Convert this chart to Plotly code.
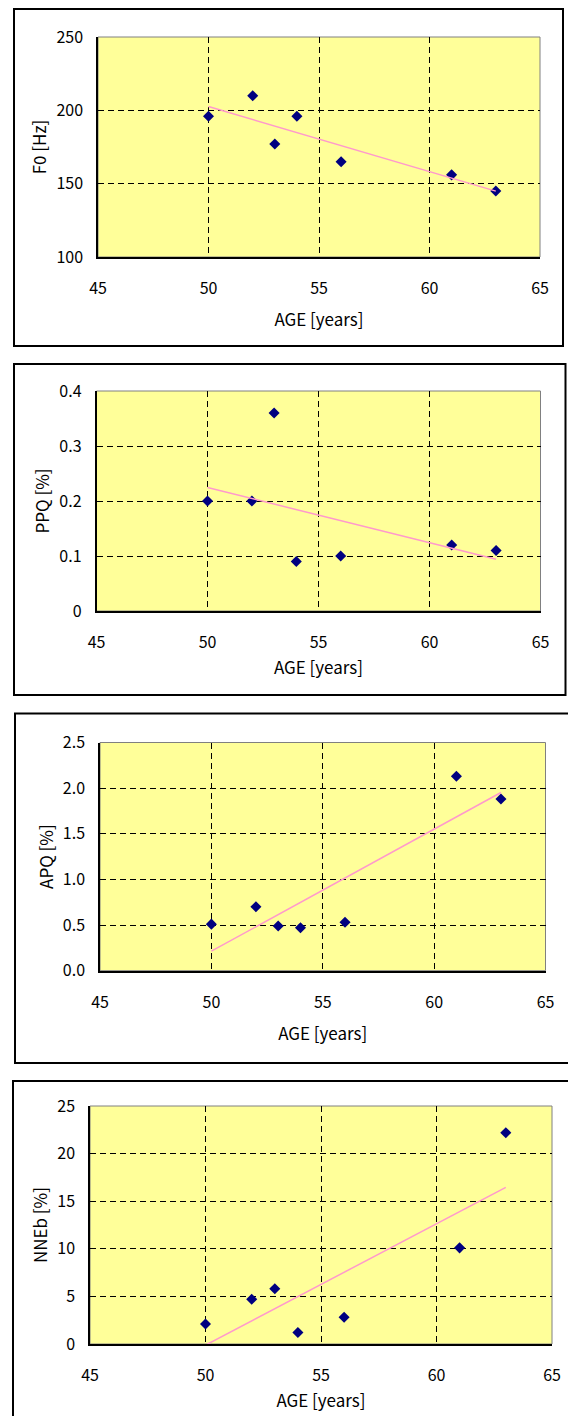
import numpy as np
import plotly.graph_objects as go

# ---- data ----
ages = [50, 52, 53, 54, 56, 61, 63]
f0_hz = [196, 210, 177, 196, 165, 156, 145]
ppq_pct = [0.20, 0.20, 0.36, 0.09, 0.10, 0.12, 0.11]
apq_pct = [0.51, 0.70, 0.49, 0.47, 0.53, 2.13, 1.88]
nneb_pct = [2.1, 4.7, 5.8, 1.2, 2.8, 10.1, 22.2]

x_title = "AGE [years]"
y_titles = ["F0 [Hz]", "PPQ [%]", "APQ [%]", "NNEb [%]"]
y_ranges = [[100, 250], [0, 0.4], [0, 2.5], [0, 25]]
y_dticks = [50, 0.1, 0.5, 5]
y_formats = ["", "", ".1f", ""]
x_range = [45, 65]
x_dtick = 5
series = [f0_hz, ppq_pct, apq_pct, nneb_pct]

# ---- layout geometry (pixels) ----
W, H = 568, 1416
plot_px = [(98, 540, 37, 257), (96.5, 540.5, 391, 611),
           (100, 545.5, 742.5, 970.7), (90, 552, 1106, 1344)]
box_px = [(14, 563, 9, 346), (14, 565.5, 364, 695),
          (15, 580, 713.5, 1063), (13, 580, 1081, 1430)]
x_title_standoff = [16, 10, 16, 10]

FONT = "Noto Sans CJK JP"
BG = "#FFFF99"
MARKER = "#000080"
TREND = "#FF99CC"


def px_x(v):
    return v / W


def px_y(v):
    return 1 - v / H


fig = go.Figure()
shapes = []
for i, (yvals, ytitle) in enumerate(zip(series, y_titles)):
    n = "" if i == 0 else str(i + 1)
    xa, ya = "x" + n, "y" + n
    fig.add_trace(go.Scatter(x=ages, y=yvals, mode="markers", xaxis=xa, yaxis=ya,
                             marker=dict(symbol="diamond", size=8.5, color=MARKER),
                             showlegend=False))
    slope, icpt = np.polyfit(ages, yvals, 1)
    tx = [min(ages), max(ages)]
    ty = [slope * t + icpt for t in tx]
    fig.add_trace(go.Scatter(x=tx, y=ty, mode="lines", xaxis=xa, yaxis=ya,
                             line=dict(color=TREND, width=1.5), showlegend=False))
    x0, x1, y0, y1 = plot_px[i]
    common = dict(showgrid=True, gridcolor="#000000", gridwidth=1, griddash="6px,4px",
                  showline=True, linecolor="#000000", linewidth=1.5, zeroline=False,
                  ticks="", tickfont=dict(family=FONT, size=16, color="#000"),
                  automargin=False, fixedrange=True)
    fig.layout["xaxis" + n] = dict(common, domain=[px_x(x0), px_x(x1)], anchor=ya,
                                   range=x_range, dtick=x_dtick, tick0=45,
                                   ticklabelstandoff=16,
                                   title=dict(text=x_title, standoff=x_title_standoff[i],
                                              font=dict(family=FONT, size=17, color="#000")))
    fig.layout["yaxis" + n] = dict(common, domain=[px_y(y1), px_y(y0)], anchor=xa,
                                   range=y_ranges[i], dtick=y_dticks[i], tick0=0,
                                   tickformat=y_formats[i], ticklabelstandoff=10,
                                   title=dict(text=ytitle, standoff=5,
                                              font=dict(family=FONT, size=17, color="#000")))
    # gray plot-area frame
    shapes.append(dict(type="rect", xref=xa + " domain", yref=ya + " domain",
                       x0=0, x1=1, y0=0, y1=1, line=dict(color="#808080", width=1),
                       layer="below"))
    bx0, bx1, by0, by1 = box_px[i]
    shapes.append(dict(type="rect", xref="paper", yref="paper",
                       x0=px_x(bx0), x1=px_x(bx1), y0=px_y(by1), y1=px_y(by0),
                       line=dict(color="#000000", width=2)))

fig.update_layout(width=W, height=H, margin=dict(l=0, r=0, t=0, b=0),
                  paper_bgcolor="#FFFFFF", plot_bgcolor=BG, shapes=shapes,
                  font=dict(family=FONT, color="#000"))
fig.write_html("out.html", config={"displayModeBar": False},
               post_script="document.body.style.margin='0';document.body.style.overflow='hidden';")
